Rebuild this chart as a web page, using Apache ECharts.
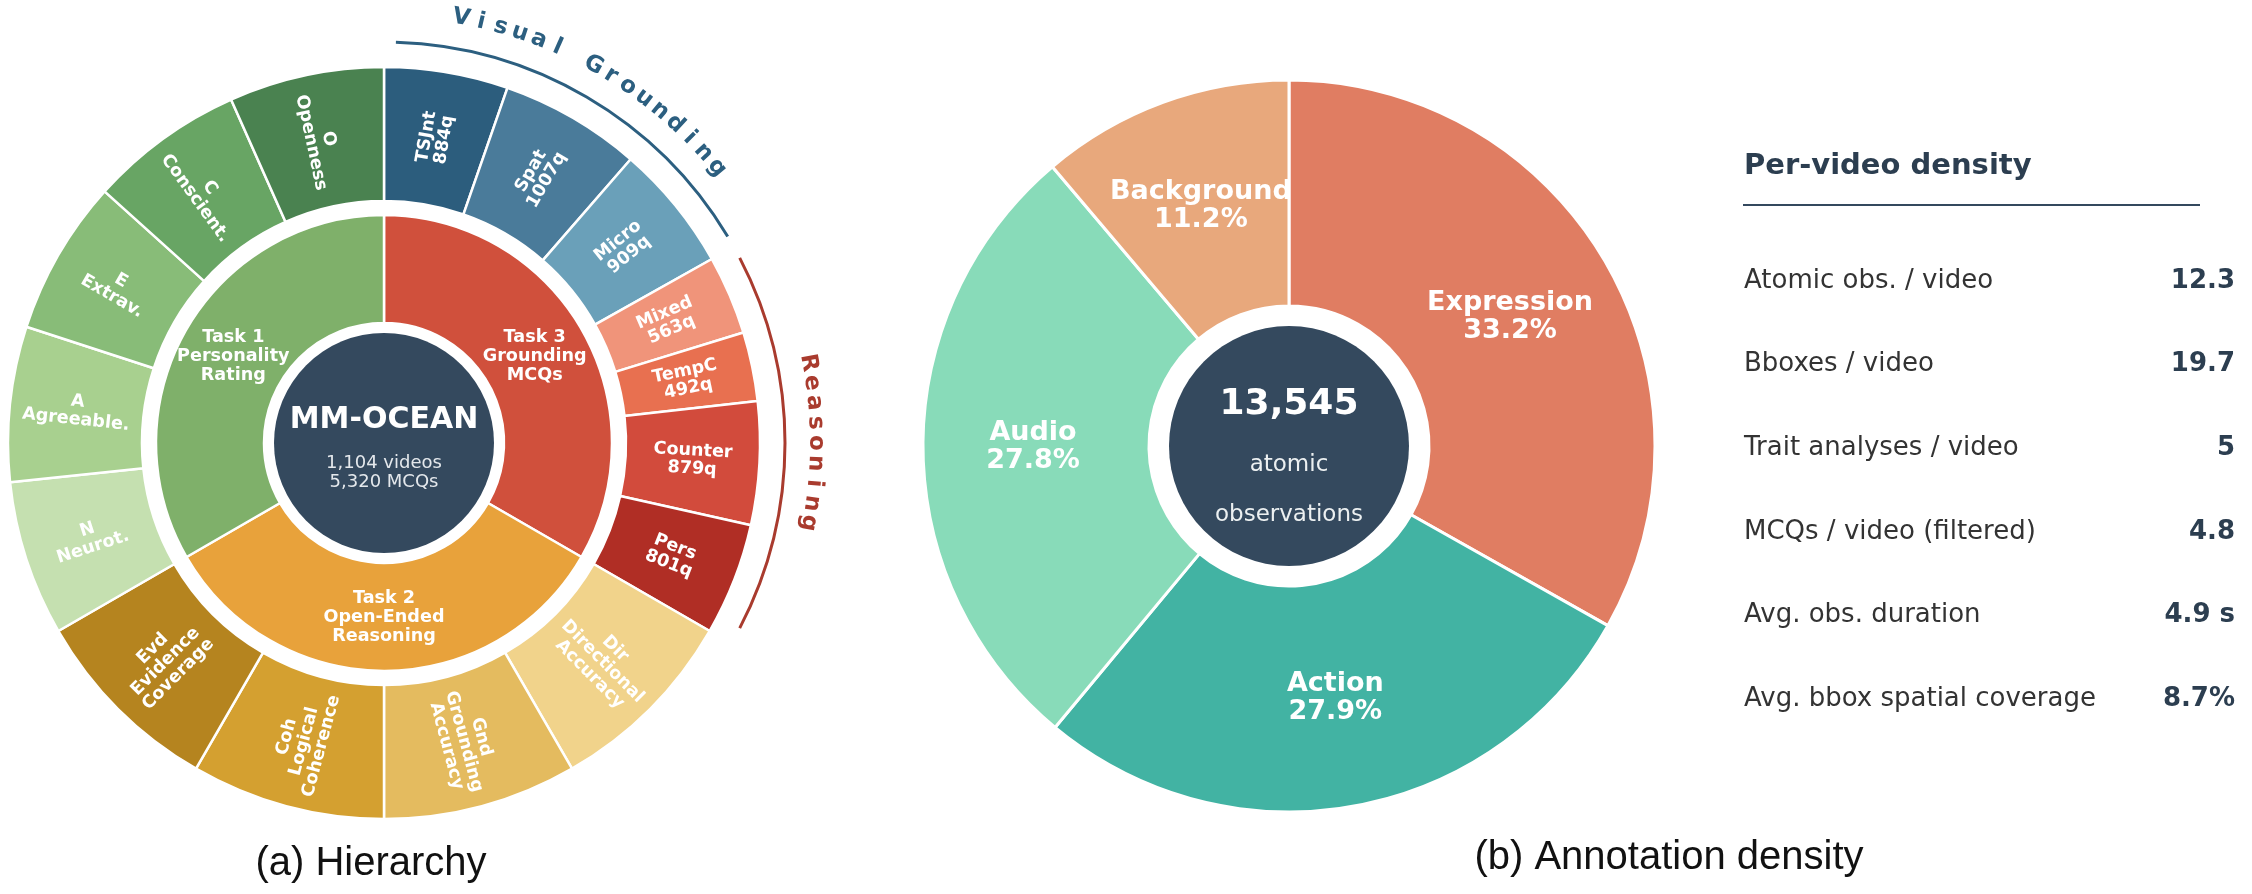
<!DOCTYPE html>
<html>
<head>
<meta charset="utf-8">
<title>MM-OCEAN hierarchy and annotation density</title>
<script src="https://cdn.jsdelivr.net/npm/echarts@6/dist/echarts.min.js"></script>
<style>
  html, body { margin: 0; padding: 0; background: #fff; }
  #chart { width: 2252px; height: 894px; }
</style>
</head>
<body>
<div id="chart"></div>
<script>
// ---- (a) hierarchy, everything listed clockwise from 12 o'clock ----
const taskNames = ['Task 3\nGrounding\nMCQs', 'Task 2\nOpen-Ended\nReasoning', 'Task 1\nPersonality\nRating']
const taskShares = [1, 1, 1] // the three tasks take equal thirds of the ring
const mcqTypes = ['TSJnt', 'Spat', 'Micro', 'Mixed', 'TempC', 'Counter', 'Pers']
const mcqCounts = [884, 1007, 909, 563, 492, 879, 801]
const reasoningCodes = ['Dir', 'Gnd', 'Coh', 'Evd']
const reasoningNames = ['Directional\nAccuracy', 'Grounding\nAccuracy', 'Logical\nCoherence', 'Evidence\nCoverage']
const reasoningWeights = [1, 1, 1, 1]
const traitCodes = ['N', 'A', 'E', 'C', 'O']
const traitNames = ['Neurot.', 'Agreeable.', 'Extrav.', 'Conscient.', 'Openness']
const traitWeights = [1, 1, 1, 1, 1]
const totalVideos = '1,104 videos'
const totalMcqs = '5,320 MCQs'
const groupArcs = ['Visual Grounding', 'Reasoning']

// ---- (b) annotation density ----
const obsTypes = ['Expression', 'Action', 'Audio', 'Background']
const obsShares = [33.2, 27.9, 27.8, 11.2]
const totalObs = '13,545'
const densityLabels = ['Atomic obs. / video', 'Bboxes / video', 'Trait analyses / video',
  'MCQs / video (filtered)', 'Avg. obs. duration', 'Avg. bbox spatial coverage']
const densityValues = ['12.3', '19.7', '5', '4.8', '4.9 s', '8.7%']

// colours
const navy = '#34495e'
const taskColors = ['#d0503c', '#e8a23b', '#7fb06a']
const mcqColors = ['#2c5d7d', '#4a7b9a', '#6aa0b9', '#f0947a', '#e87050', '#d24b3c', '#b02e25']
const reasoningColors = ['#f1d38b', '#e4bb5f', '#d4a030', '#b5841f']
const traitColors = ['#c5e0b0', '#a8d08f', '#88bc78', '#68a564', '#4a8250']
const arcColors = ['#2c5f80', '#a93b2e']
const obsColors = ['#e07d62', '#42b3a3', '#88dbb9', '#e8a87c']

const FONT = 'DejaVu Sans'

const makeChildren = (labels, weights, share, colors) => {
  const sum = weights.reduce((a, b) => a + b, 0)
  return labels.map((name, i) => ({
    name: name,
    value: share * weights[i] / sum,
    itemStyle: { color: colors[i] }
  }))
}

const hierarchy = [
  {
    name: taskNames[0],
    itemStyle: { color: taskColors[0] },
    children: makeChildren(mcqTypes.map((t, i) => t + '\n' + mcqCounts[i] + 'q'), mcqCounts, taskShares[0], mcqColors)
  },
  {
    name: taskNames[1],
    itemStyle: { color: taskColors[1] },
    children: makeChildren(reasoningCodes.map((c, i) => c + '\n' + reasoningNames[i]), reasoningWeights, taskShares[1], reasoningColors)
  },
  {
    name: taskNames[2],
    itemStyle: { color: taskColors[2] },
    children: makeChildren(traitCodes.map((c, i) => c + '\n' + traitNames[i]), traitWeights, taskShares[2], traitColors)
  }
]

// curved group labels and bracket arcs around the sunburst
const cx = 384
const cy = 443
const graphics = []
const toRad = (clockDeg) => (clockDeg - 90) * Math.PI / 180
const arcSpans = [[1.7, 59], [62.5, 117.5]]
const arcMids = [30.35, 90]
const letterStep = 2.67

arcSpans.forEach((span, k) => {
  graphics.push({
    type: 'arc',
    silent: true,
    shape: { cx: cx, cy: cy, r: 401, startAngle: toRad(span[0]), endAngle: toRad(span[1]), clockwise: true },
    style: { stroke: arcColors[k], lineWidth: 3, fill: null }
  })
  const chars = groupArcs[k].split('')
  chars.forEach((ch, i) => {
    if (ch === ' ') return
    const deg = arcMids[k] + (i - (chars.length - 1) / 2) * letterStep
    const rad = deg * Math.PI / 180
    graphics.push({
      type: 'text',
      silent: true,
      x: cx + 432 * Math.sin(rad),
      y: cy - 432 * Math.cos(rad),
      rotation: -rad,
      style: {
        text: ch, fill: arcColors[k], font: 'bold 23px "' + FONT + '"',
        align: 'center', verticalAlign: 'middle', textAlign: 'center', textVerticalAlign: 'middle'
      }
    })
  })
})

// per-video density table
const tableX = 1744
const tableRight = 2235
graphics.push({
  type: 'text', silent: true, x: tableX, y: 166,
  style: { text: 'Per-video density', fill: '#2c3e50', font: 'bold 29px "' + FONT + '"',
    align: 'left', verticalAlign: 'middle', textAlign: 'left', textVerticalAlign: 'middle' }
})
graphics.push({
  type: 'line', silent: true,
  shape: { x1: 1743, y1: 205, x2: 2200, y2: 205 },
  style: { stroke: navy, lineWidth: 2 }
})
densityLabels.forEach((lab, i) => {
  const y = 281 + i * 83.6
  graphics.push({
    type: 'text', silent: true, x: tableX, y: y,
    style: { text: lab, fill: '#333333', font: '26px "' + FONT + '"',
      align: 'left', verticalAlign: 'middle', textAlign: 'left', textVerticalAlign: 'middle' }
  })
  graphics.push({
    type: 'text', silent: true, x: tableRight, y: y,
    style: { text: densityValues[i], fill: '#2c3e50', font: 'bold 26px "' + FONT + '"',
      align: 'right', verticalAlign: 'middle', textAlign: 'right', textVerticalAlign: 'middle' }
  })
})

// panel captions
const captions = [['(a) Hierarchy', 371, 864], ['(b) Annotation density', 1669, 858]]
captions.forEach(c => {
  graphics.push({
    type: 'text', silent: true, x: c[1], y: c[2],
    style: { text: c[0], fill: '#111111', font: '40px "Liberation Sans"',
      align: 'center', verticalAlign: 'middle', textAlign: 'center', textVerticalAlign: 'middle' }
  })
})

const chart = echarts.init(document.getElementById('chart'))

const option = {
  animation: false,
  textStyle: { fontFamily: FONT },
  graphic: { elements: graphics },
  series: [
    {
      type: 'sunburst',
      center: [cx, cy],
      radius: [0, 376],
      startAngle: 90,
      clockwise: true,
      sort: null,
      nodeClick: false,
      emphasis: { focus: 'none' },
      itemStyle: { borderColor: '#fff', borderWidth: 2.5 },
      label: {
        color: '#fff', fontFamily: FONT, fontWeight: 'bold',
        fontSize: 17.6, lineHeight: 18
      },
      levels: [
        {},
        { r0: 120, r: 228, label: { rotate: 0, lineHeight: 19 } },
        { r0: 242, r: 376, label: { rotate: 'radial' } }
      ],
      data: hierarchy
    },
    {
      // MM-OCEAN hub
      type: 'pie',
      center: [cx, cy],
      radius: [0, 110],
      silent: true,
      emphasis: { disabled: true },
      label: {
        position: 'center',
        padding: [0, 0, 8, 0],
        formatter: '{t|MM-OCEAN}\n{s|' + totalVideos + '}\n{s|' + totalMcqs + '}',
        rich: {
          t: { color: '#fff', fontFamily: FONT, fontWeight: 'bold', fontSize: 30, lineHeight: 67 },
          s: { color: '#e4e8ec', fontFamily: FONT, fontSize: 18, lineHeight: 19 }
        }
      },
      labelLine: { show: false },
      data: [{ name: 'MM-OCEAN', value: 1, itemStyle: { color: navy } }]
    },
    {
      type: 'pie',
      center: [1289, 446],
      radius: [140, 366],
      startAngle: 90,
      clockwise: true,
      silent: true,
      emphasis: { disabled: true },
      itemStyle: { borderColor: '#fff', borderWidth: 3 },
      label: {
        position: 'inside',
        formatter: '{b}\n{c}%',
        color: '#fff',
        fontFamily: FONT,
        fontWeight: 'bold',
        fontSize: 27,
        lineHeight: 28
      },
      labelLine: { show: false },
      data: obsTypes.map((n, i) => ({ name: n, value: obsShares[i], itemStyle: { color: obsColors[i] } }))
    },
    {
      // total observations hub
      type: 'pie',
      center: [1289, 446],
      radius: [0, 120],
      silent: true,
      emphasis: { disabled: true },
      label: {
        position: 'center',
        padding: [18, 0, 0, 0],
        formatter: '{n|' + totalObs + '}\n{s|atomic}\n{s|observations}',
        rich: {
          n: { color: '#fff', fontFamily: FONT, fontWeight: 'bold', fontSize: 36, lineHeight: 70 },
          s: { color: '#ecf0f1', fontFamily: FONT, fontSize: 23, lineHeight: 50 }
        }
      },
      labelLine: { show: false },
      data: [{ name: 'observations', value: 1, itemStyle: { color: navy } }]
    }
  ]
}

chart.setOption(option)
</script>
</body>
</html>
